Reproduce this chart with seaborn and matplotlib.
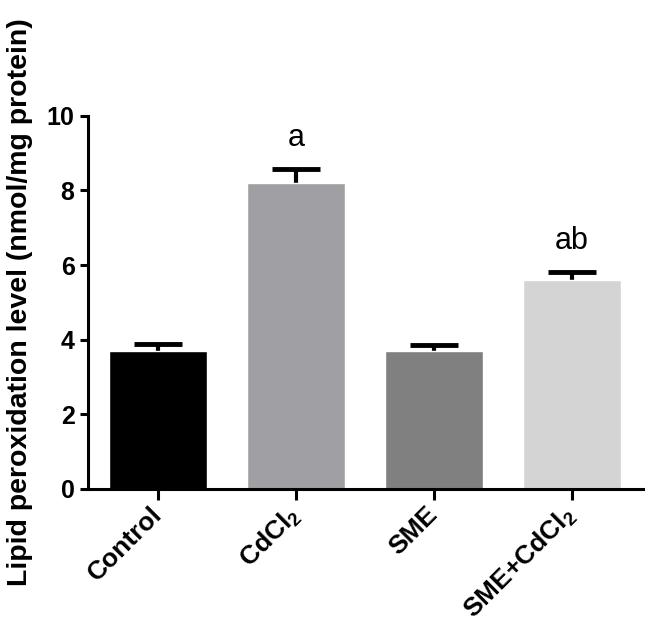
import numpy as np
import pandas as pd
import seaborn as sns
import matplotlib.pyplot as plt

# Values
groups = ['Control', 'CdCl2', 'SME', 'SME+CdCl2']
means = [3.7, 8.2, 3.7, 5.6]
sems = [0.18, 0.38, 0.15, 0.22]
letters = ['', 'a', '', 'ab']
colors = ['#000000', '#a0a0a4', '#808080', '#d4d4d4']
tick_labels = ['Control', r'CdCl$\mathregular{_2}$', 'SME', r'SME+CdCl$\mathregular{_2}$']

sns.set_style('ticks')
plt.rcParams['font.family'] = ['Liberation Sans', 'DejaVu Sans']
plt.rcParams['mathtext.fontset'] = 'custom'
plt.rcParams['mathtext.rm'] = 'Liberation Sans'
for key in ['text.color', 'axes.labelcolor', 'xtick.color', 'ytick.color', 'axes.edgecolor']:
    plt.rcParams[key] = 'black'

df = pd.DataFrame({'group': groups, 'value': means})

fig = plt.figure(figsize=(6.45, 6.26), dpi=100)
ax = fig.add_axes([0.136, 0.219, 0.864, 0.596])

sns.barplot(data=df, x='group', y='value', hue='group', palette=colors,
            width=0.71, legend=False, saturation=1, ax=ax)

# upper-only error bars (SEM)
x = np.arange(len(groups))
_, caps, _ = ax.errorbar(x, means, yerr=[np.zeros(len(sems)), sems], fmt='none',
                         ecolor='black', elinewidth=3, capsize=17, capthick=3.5,
                         zorder=1)
caps[0].set_visible(False)
for b in ax.patches:
    b.set_zorder(2)

for xi, m, s, t in zip(x, means, sems, letters):
    if t:
        ax.text(xi, m + s + 0.6, t, ha='center', va='baseline', fontsize=22)

ax.set_ylim(0, 10)
ax.set_xlim(-0.51, 3.53)
ax.set_yticks([0, 2, 4, 6, 8, 10])
ax.set_xticks(x)
ax.set_xticklabels(tick_labels, rotation=45, ha='right', va='center',
                   rotation_mode='anchor', fontsize=19, fontweight='bold')
ax.tick_params(axis='y', labelsize=18, width=2.2, length=6)
for lab in ax.get_yticklabels():
    lab.set_fontweight('bold')
ax.tick_params(axis='x', width=2.2, length=8, pad=8)
ax.set_xlabel('')
ax.set_ylabel('Lipid peroxidation level (nmol/mg protein)', fontsize=20.5,
              fontweight='bold', labelpad=10)
sns.despine(ax=ax)
ax.spines['left'].set_linewidth(2.2)
ax.spines['bottom'].set_linewidth(2.2)

fig.savefig('out.png', dpi=100)
